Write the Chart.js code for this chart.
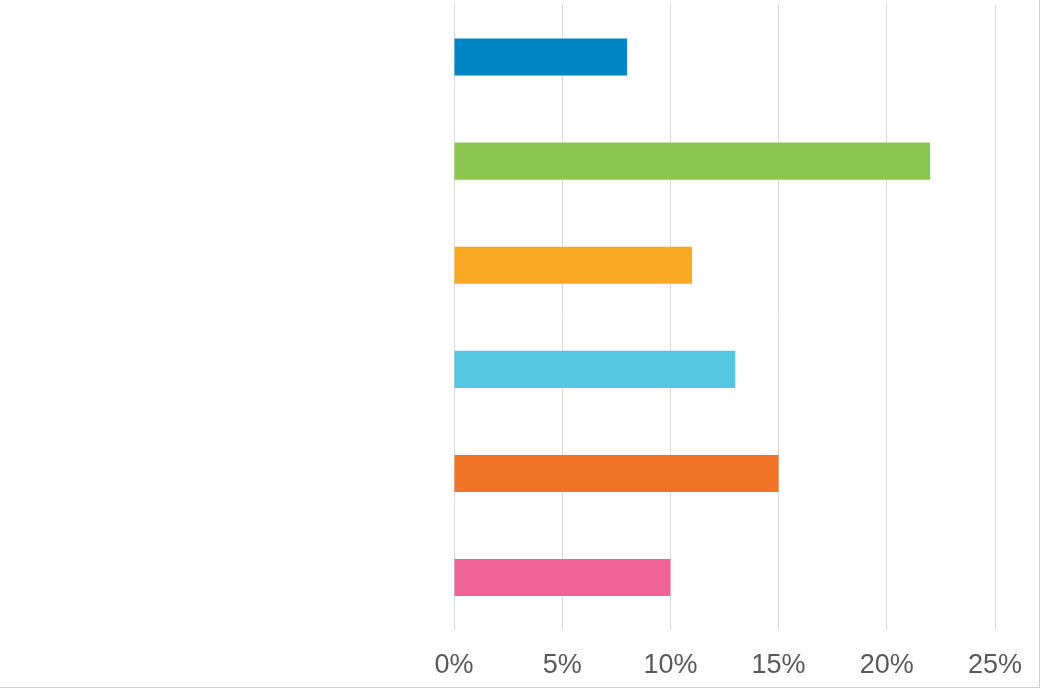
<!DOCTYPE html>
<html>
<head>
<meta charset="utf-8">
<script src="https://cdn.jsdelivr.net/npm/chart.js@4/dist/chart.umd.min.js"></script>
<style>
  html, body { margin: 0; padding: 0; background: #fff; }
  #wrap {
    position: relative;
    width: 1039px;
    height: 687px;
    overflow: hidden;
    border-right: 1px solid #cfcfcf;
    border-bottom: 1px solid #cfcfcf;
  }
  canvas { display: block; }
</style>
</head>
<body>
<div id="wrap"><canvas id="chart" width="1039" height="702"></canvas></div>
<script>
  // Category names are not shown in the picture; placeholders only
  var categories = ["1", "2", "3", "4", "5", "6"];
  var values = [8, 22, 11, 13, 15, 10];
  var barColors = ["#0085C4", "#8BC653", "#F9AA22", "#55C8E1", "#F17426", "#F06396"];
  var xTicks = [0, 5, 10, 15, 20, 25];

  var ctx = document.getElementById("chart").getContext("2d");
  new Chart(ctx, {
    type: "bar",
    data: {
      labels: categories,
      datasets: [{
        data: values,
        backgroundColor: barColors,
        borderWidth: 0,
        categoryPercentage: 1,
        barPercentage: 0.356
      }]
    },
    options: {
      indexAxis: "y",
      responsive: false,
      animation: false,
      layout: { padding: { left: 454, right: 44, top: 5, bottom: 0 } },
      plugins: { legend: { display: false }, tooltip: { enabled: false } },
      scales: {
        x: {
          min: 0,
          max: 25,
          afterBuildTicks: function (axis) {
            axis.ticks = xTicks.map(function (v) { return { value: v }; });
          },
          afterFit: function (axis) {
            // labels fit inside the layout padding; don't let them shrink the plot
            axis.paddingLeft = 0;
            axis.paddingRight = 0;
          },
          grid: { color: "#d9d9d9", lineWidth: 1, drawTicks: false },
          border: { display: false },
          ticks: {
            color: "#595959",
            font: { family: "Liberation Sans, Arial, sans-serif", size: 27 },
            padding: 20,
            maxRotation: 0,
            callback: function (v) { return v + "%"; }
          }
        },
        y: { display: false }
      }
    }
  });
</script>
</body>
</html>
